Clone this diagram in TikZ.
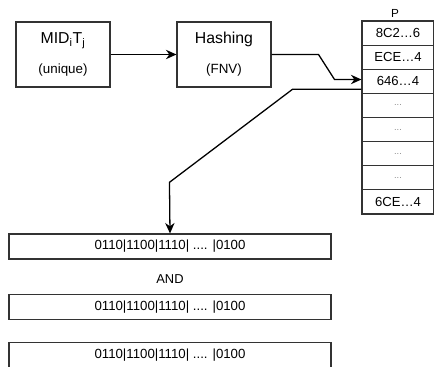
\documentclass[tikz,border=0pt]{standalone}
\usepackage{fontspec}
\setmainfont{Liberation Sans}
\usetikzlibrary{arrows.meta}
\tikzstyle{block}=[draw=black!80, line width=.9pt, minimum width=2.82cm, minimum height=1.95cm, inner sep=0pt, align=center, font=\fontsize{13.5}{25.5}\selectfont]
\tikzstyle{cell}=[draw=black!80, line width=.9pt, minimum width=2.16cm, minimum height=0.7238cm, inner sep=0pt, font=\fontsize{11.2}{13}\selectfont]
\tikzstyle{bits}=[draw=black!80, line width=.9pt, minimum width=9.66cm, minimum height=0.75cm, inner sep=0pt, font=\fontsize{11.3}{13}\selectfont]
\tikzstyle{link}=[draw, line width=1.1pt, -{Stealth[length=9pt,width=8pt]}]
\newcommand{\skipdots}{{\color{black!45}\fontsize{8}{9}\selectfont ...}}
\begin{document}
\begin{tikzpicture}[x=0.03cm, y=-0.03cm]
\useasboundingbox (0,0) rectangle (434,367);

% input and hash
\node[block] (mid) at (63,54.5) {MID\textsubscript{i}T\textsubscript{j}\\{\fontsize{11.4}{25.5}\selectfont (unique)}};
\node[block] (hash) at (224,54.5) {Hashing\\{\fontsize{11.4}{25.5}\selectfont (FNV)}};

% table P
\node[font=\fontsize{10}{12}\selectfont] (plbl) at (395,13) {P};
\foreach \i/\t in {1/8C2…6, 2/ECE…4, 3/646…4, 4/\skipdots, 5/\skipdots, 6/\skipdots, 7/\skipdots, 8/6CE…4}{
	\node[cell] (p\i) at (398, {21+24.125*(\i-0.5)}) {\t};
}

\draw[link] (mid.east) -- (hash.west);
\draw[link] (hash.east) -- ++(47,0) -- ++(16,25) coordinate (k) -- (k -| p3.west);

% bit vectors
\node[bits] (bits1) at (170,246.5) {0110|1100|1110| .... |0100};
\node[font=\fontsize{11}{13}\selectfont] (andlbl) at (170,279) {AND};
\node[bits] (bits2) at (170,307) {0110|1100|1110| .... |0100};
\node[bits] (bits3) at (170,355) {0110|1100|1110| .... |0100};

\draw[link] ([yshift=-0.24cm]p3.west) -- ++(-69,0) -- ++(-123,93) -- (bits1.north);
\end{tikzpicture}
\end{document}
